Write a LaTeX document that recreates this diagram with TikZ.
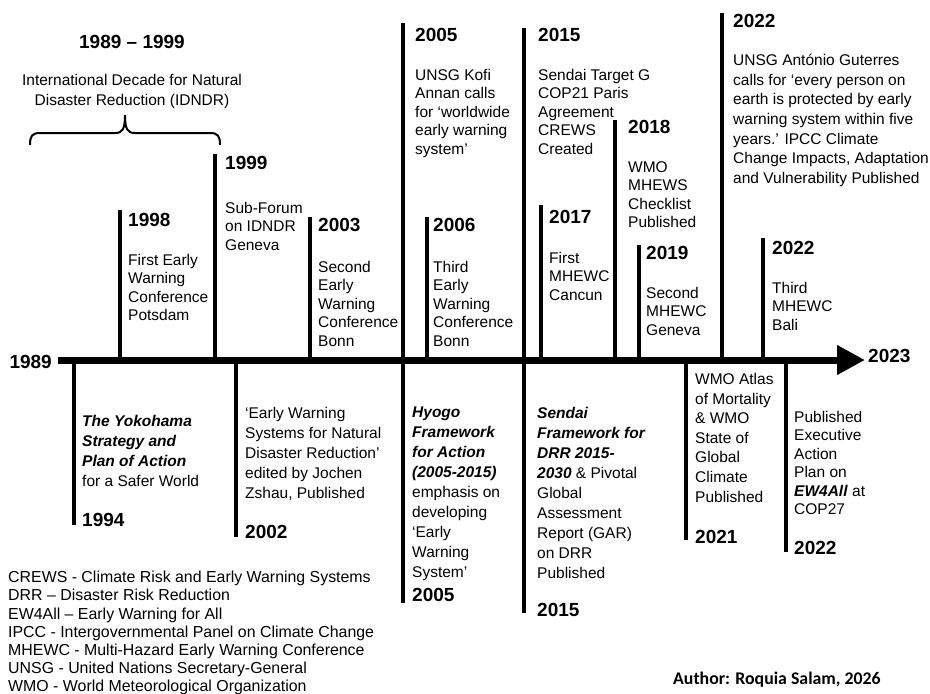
\documentclass[tikz,border=0pt]{standalone}
\usepackage{fontspec}
\setmainfont{Liberation Sans}
\newfontfamily\authorfont{Carlito}
\usetikzlibrary{arrows.meta}
\newcommand{\bfit}[1]{\textbf{\textit{#1}}}

\begin{document}
\begin{tikzpicture}[x=1pt,y=-1pt]
				\tikzstyle{axis}=[line width=7pt,-{Triangle[length=28pt,width=28pt]}]
				\tikzstyle{stem}=[line width=4pt]
				\tikzstyle{year}=[font=\fontsize{19}{22}\selectfont\bfseries,inner sep=0pt,anchor=west]
				\tikzstyle{event}=[font=\fontsize{15.5}{18.5}\selectfont,inner sep=0pt,anchor=north west,align=left]
				\tikzstyle{wide}=[font=\fontsize{15.5}{20}\selectfont]
				\useasboundingbox (0,0) rectangle (930,694);

				% decade brace
				\node[year,anchor=center](decade) at (132,42){1989 -- 1999};
				\node[event,wide,anchor=north,align=center](idndr) at (132,74){International Decade for Natural\\Disaster Reduction (IDNDR)};
				\draw[line width=2pt] (30,145) .. controls (30,136) and (32,133) .. (40,133) -- (115,133) .. controls (122,133) and (125,130) .. (125,115) .. controls (125,130) and (128,133) .. (135,133) -- (210,133) .. controls (218,133) and (220,136) .. (220,145);

				% time axis
				\node[year,anchor=east](y1989) at (52,362){1989};
				\node[year](y2023) at (868,356){2023};
				\coordinate (start) at (58,360);
				\coordinate (end) at (865,360);
				\draw[axis] (start) -- (end);

				% events above the axis
				\coordinate (a1998) at (120,360);
				\coordinate (t1998) at (120,210);
				\node[year](y1998) at (128,220){1998};
				\node[event](e1998) at (128,254){First Early\\Warning\\Conference\\Potsdam};

				\coordinate (a1999) at (215,360);
				\coordinate (t1999) at (215,154);
				\node[year](y1999) at (225,163){1999};
				\node[event](e1999) at (225,202){Sub-Forum\\on IDNDR\\Geneva};

				\coordinate (a2003) at (310,360);
				\coordinate (t2003) at (310,217);
				\node[year](y2003) at (318,225){2003};
				\node[event](e2003) at (318,261){Second\\Early\\Warning\\Conference\\Bonn};

				\coordinate (a2005u) at (403,360);
				\coordinate (t2005u) at (403,23);
				\node[year](y2005u) at (415,35){2005};
				\node[event](e2005u) at (415,69){UNSG Kofi\\Annan calls\\for ‘worldwide\\early warning\\system’};

				\coordinate (a2006) at (427,360);
				\coordinate (t2006) at (427,217);
				\node[year](y2006) at (433,225){2006};
				\node[event](e2006) at (433,261){Third\\Early\\Warning\\Conference\\Bonn};

				\coordinate (a2015u) at (524,360);
				\coordinate (t2015u) at (524,28);
				\node[year](y2015u) at (538,35){2015};
				\node[event](e2015u) at (538,69){Sendai Target G\\COP21 Paris\\Agreement\\CREWS\\Created};

				\coordinate (a2017) at (541,360);
				\coordinate (t2017) at (541,205);
				\node[year](y2017) at (549,217){2017};
				\node[event](e2017) at (549,252){First\\MHEWC\\Cancun};

				\coordinate (a2018) at (615,360);
				\coordinate (t2018) at (615,120);
				\node[year](y2018) at (628,127){2018};
				\node[event](e2018) at (628,161){WMO\\MHEWS\\Checklist\\Published};

				\coordinate (a2019) at (639,360);
				\coordinate (t2019) at (639,245);
				\node[year](y2019) at (646,253){2019};
				\node[event](e2019) at (646,287){Second\\MHEWC\\Geneva};

				\coordinate (a2022u) at (722,360);
				\coordinate (t2022u) at (722,13);
				\node[year](y2022u) at (733,21){2022};
				\node[event,font=\fontsize{15.5}{19.6}\selectfont](e2022u) at (733,54){UNSG António Guterres\\calls for ‘every person on\\earth is protected by early\\warning system within five\\years.’ IPCC Climate\\Change Impacts, Adaptation\\and Vulnerability Published};

				\coordinate (a2022m) at (763,360);
				\coordinate (t2022m) at (763,238);
				\node[year](y2022m) at (772,248){2022};
				\node[event](e2022m) at (772,282){Third\\MHEWC\\Bali};

				% events below the axis
				\coordinate (a1994) at (74,360);
				\coordinate (b1994) at (74,525);
				\node[year](y1994) at (82,520){1994};
				\node[event,wide](e1994) at (82,415){\bfit{The Yokohama}\\\bfit{Strategy and}\\\bfit{Plan of Action}\\for a Safer World};

				\coordinate (a2002) at (236,360);
				\coordinate (b2002) at (236,537);
				\node[year](y2002) at (245,532){2002};
				\node[event,wide](e2002) at (245,407){‘Early Warning\\Systems for Natural\\Disaster Reduction’\\edited by Jochen\\Zshau, Published};

				\coordinate (a2005d) at (403,360);
				\coordinate (b2005d) at (403,603);
				\node[year](y2005d) at (412,595){2005};
				\node[event,wide](e2005d) at (412,407){\bfit{Hyogo}\\\bfit{Framework}\\\bfit{for Action}\\\bfit{(2005-2015)}\\emphasis on\\developing\\‘Early\\Warning\\System’};

				\coordinate (a2015d) at (524,360);
				\coordinate (b2015d) at (524,613);
				\node[year](y2015d) at (537,610){2015};
				\node[event,wide](e2015d) at (537,407){\bfit{Sendai}\\\bfit{Framework for}\\\bfit{DRR 2015-}\\\bfit{2030} \& Pivotal\\Global\\Assessment\\Report (GAR)\\on DRR\\Published};

				\coordinate (a2021) at (686,360);
				\coordinate (b2021) at (686,540);
				\node[year](y2021) at (695,537){2021};
				\node[event,font=\fontsize{15.5}{19.6}\selectfont](e2021) at (695,373){WMO Atlas\\of Mortality\\\& WMO\\State of\\Global\\Climate\\Published};

				\coordinate (a2022d) at (786,360);
				\coordinate (b2022d) at (786,552);
				\node[year](y2022d) at (794,548){2022};
				\node[event](e2022d) at (794,411){Published\\Executive\\Action\\Plan on\\\bfit{EW4All} at\\COP27};

				\path[stem]
					(a1998) edge (t1998)
					(a1999) edge (t1999)
					(a2003) edge (t2003)
					(a2005u) edge (t2005u)
					(a2006) edge (t2006)
					(a2015u) edge (t2015u)
					(a2017) edge (t2017)
					(a2018) edge (t2018)
					(a2019) edge (t2019)
					(a2022u) edge (t2022u)
					(a2022m) edge (t2022m)
					(a1994) edge (b1994)
					(a2002) edge (b2002)
					(a2005d) edge (b2005d)
					(a2015d) edge (b2015d)
					(a2021) edge (b2021)
					(a2022d) edge (b2022d);

				% abbreviations and author
				\node[event,font=\fontsize{15.9}{18.2}\selectfont](legend) at (8,571){CREWS - Climate Risk and Early Warning Systems\\DRR -- Disaster Risk Reduction\\EW4All -- Early Warning for All\\IPCC - Intergovernmental Panel on Climate Change\\MHEWC - Multi-Hazard Early Warning Conference\\UNSG - United Nations Secretary-General\\WMO - World Meteorological Organization};
				\node[font=\fontsize{17.8}{20}\selectfont\authorfont\bfseries,inner sep=0pt,anchor=west](author) at (673,680){Author: Roquia Salam, 2026};
			\end{tikzpicture}
\end{document}
